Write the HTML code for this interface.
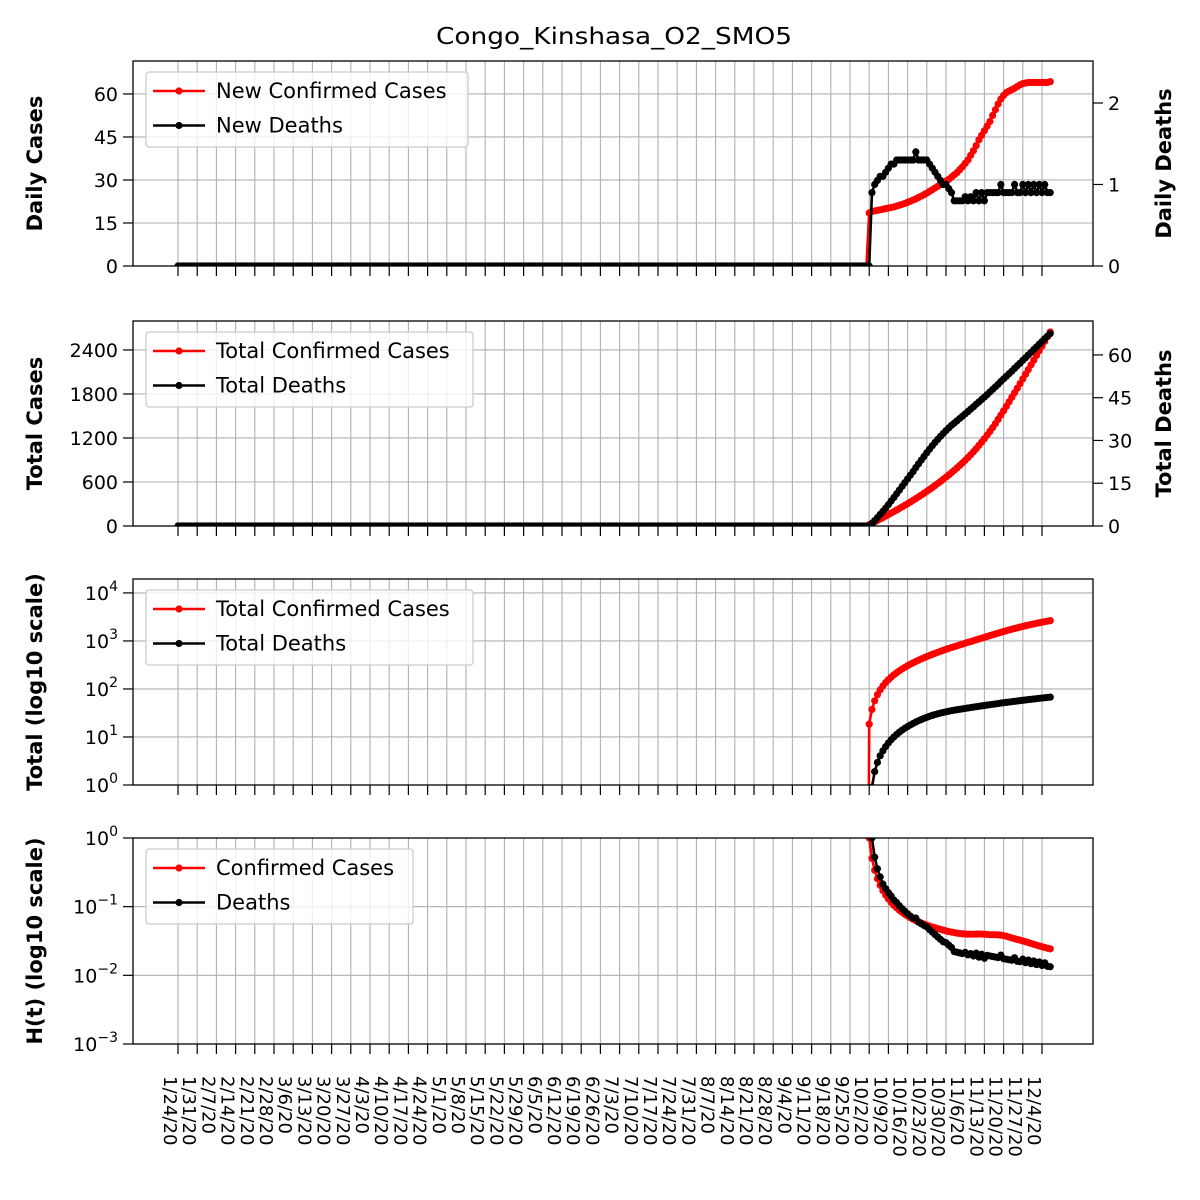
<!DOCTYPE html>
<html><head><meta charset="utf-8"><style>
body{margin:0;background:#fff;overflow:hidden}
svg{display:block;font-family:"DejaVu Sans","Liberation Sans",sans-serif}
</style></head><body>
<svg id="chart" width="1200" height="1200" viewBox="0 0 1200 1200" style="overflow:hidden"></svg>
<script>
// ---- data ----
const startDay = 252; // first day (10/2/20) of nonzero series; days 0..251 are zero
const zeroDays = 252;
const dailyCases = [18.5,19,19.2,19.4, 19.6,19.8,20,20.2, 20.4,20.6,20.9,21.2, 21.5,21.8,22.2,22.6,
 23,23.4,23.9,24.4, 24.9,25.4,26,26.6, 27.2,27.8,28.4,29, 29.6,30.2,31,31.8, 32.6,33.6,34.6,35.8,
 37,38.6,40.2,42, 44,45.6,47.2,48.8, 50.4,52.5,54.5,56.5, 58.2,59.5,60.5,61, 61.5,62,62.6,63.2,
 63.6,63.8,64,64, 64,64,64,64,64,64,64.3];
const dailyDeaths = [0,0.9,1.0,1.05,1.1,1.1,1.15,1.2,1.25,1.25,1.3,1.3,1.3,1.3,
 1.3,1.3,1.3,1.4,1.3,1.3,1.3,1.3,1.25,1.2,1.15,1.1,1.05,1.0,
 1.0,0.95,0.9,0.8,0.8,0.8,0.8,0.85,0.8,0.85,0.8,0.9,0.8,0.9,0.8,0.9,0.9,0.9,0.9,0.9,1.0,0.9,0.9,0.9,0.9,1.0,0.9,0.9,1.0,0.9,1.0,0.9,1.0,0.9,1.0,0.9,1.0,0.9,0.9];
const tickLabels = ["1/24/20","1/31/20","2/7/20","2/14/20","2/21/20","2/28/20","3/6/20","3/13/20","3/20/20","3/27/20","4/3/20","4/10/20","4/17/20","4/24/20","5/1/20","5/8/20","5/15/20","5/22/20","5/29/20","6/5/20","6/12/20","6/19/20","6/26/20","7/3/20","7/10/20","7/17/20","7/24/20","7/31/20","8/7/20","8/14/20","8/21/20","8/28/20","9/4/20","9/11/20","9/18/20","9/25/20","10/2/20","10/9/20","10/16/20","10/23/20","10/30/20","11/6/20","11/13/20","11/20/20","11/27/20","12/4/20"];
const p1Left=[0,15,30,45,60], p1Right=[0,1,2];
const p2Left=[0,600,1200,1800,2400], p2Right=[0,15,30,45,60];

const NS="http://www.w3.org/2000/svg";
const svg=document.getElementById('chart');
function el(tag,attrs,parent){const e=document.createElementNS(NS,tag);for(const k in attrs)e.setAttribute(k,attrs[k]);(parent||svg).appendChild(e);return e;}
const X0=133,X1=1093;
const xs=d=>178+d*(864/315);

const fullCases=[],fullDeaths=[];
for(let i=0;i<zeroDays;i++){fullCases.push(0);fullDeaths.push(0);}
dailyCases.forEach(v=>fullCases.push(v));
dailyDeaths.forEach(v=>fullDeaths.push(v));
function cum(a){let s=0;return a.map(v=>s+=v);}
const totCases=cum(fullCases), totDeaths=cum(fullDeaths);
const hCases=fullCases.map((v,i)=>totCases[i]>0?v/totCases[i]:null);
const hDeaths=fullDeaths.map((v,i)=>totDeaths[i]>0?v/totDeaths[i]:null);

const panels=[{t:61,b:266},{t:321,b:526},{t:579,b:785},{t:838,b:1044}];
function linY(p,min,max){return v=>p.b-(v-min)/(max-min)*(p.b-p.t);}
function logY(p,lmin,lmax){return v=>p.b-(Math.log10(v)-lmin)/(lmax-lmin)*(p.b-p.t);}

function frame(p,idx,leftTicks,leftY,leftFmt,rightTicks,rightY,label,rlabel){
  const g=el('g',{});
  const clipId='clip'+idx;
  const cp=el('clipPath',{id:clipId},g);el('rect',{x:X0,y:p.t,width:X1-X0,height:p.b-p.t},cp);
  const grid=el('g',{},g);
  tickLabels.forEach((l,i)=>{const x=xs(i*7);el('line',{x1:x,x2:x,y1:p.t,y2:p.b,stroke:'#b0b0b0','stroke-width':1.1},grid);
    el('line',{x1:x,x2:x,y1:p.b,y2:p.b+10,stroke:'#000','stroke-width':1.2},g);});
  leftTicks.forEach(v=>{const y=leftY(v);el('line',{x1:X0,x2:X1,y1:y,y2:y,stroke:'#b0b0b0','stroke-width':1.1},grid);
    el('line',{x1:X0-10,x2:X0,y1:y,y2:y,stroke:'#000','stroke-width':1.2},g);
    const t=el('text',{x:X0-15,y:y+7,'text-anchor':'end','font-size':19},g);leftFmt(t,v);});
  if(rightTicks){rightTicks.forEach(v=>{const y=rightY(v);
    el('line',{x1:X1,x2:X1+10,y1:y,y2:y,stroke:'#000','stroke-width':1.2},g);
    const t=el('text',{x:X1+15,y:y+7,'font-size':19},g);t.textContent=v;});}
  const yl=el('text',{x:0,y:0,transform:`translate(42,${(p.t+p.b)/2}) rotate(-90)`,'text-anchor':'middle','font-size':21,'font-weight':'bold'},g);
  yl.textContent=label;
  if(rlabel){const r=el('text',{x:0,y:0,transform:`translate(1171,${(p.t+p.b)/2}) rotate(-90)`,'text-anchor':'middle','font-size':21,'font-weight':'bold'},g);
    r.textContent=rlabel;}
  return {g,clip:`url(#${clipId})`};
}
function series(fr,vals,yf,color,name,startIdx){
  const g=el('g',{'clip-path':fr.clip},fr.g);
  
  
  let pts=[];
  vals.forEach((v,i)=>{if(i<startIdx)return;if(v===null)return;pts.push([xs(i),yf(v)]);});
  el('polyline',{points:pts.map(p=>p.join(',')).join(' '),fill:'none',stroke:color,'stroke-width':2.6},g);
  pts.forEach(p=>{if(p[1]<-1000||p[1]>2000)return;el('circle',{cx:p[0],cy:p[1],r:3.6,fill:color},g);});
}
function legend(p,w,items,idx){
  const g=el('g',{});
  el('rect',{x:146,y:p.t+11,width:w,height:75,rx:3,fill:'#fff','fill-opacity':0.8,stroke:'#ccc','stroke-width':1.3},g);
  items.forEach((it,k)=>{const y=p.t+30+k*34.5;
    el('line',{x1:153,x2:205,y1:y,y2:y,stroke:it[1],'stroke-width':2.6},g);
    el('circle',{cx:179,cy:y,r:3.6,fill:it[1]},g);
    const t=el('text',{x:216,y:y+7,'font-size':21},g);t.textContent=it[0];});
}
function border(p){el('rect',{x:X0,y:p.t,width:X1-X0,height:p.b-p.t,fill:'none',stroke:'#000','stroke-width':1.3});}
function sup(t,base,exp){t.textContent=base;const s=el('tspan',{dy:-9,'font-size':14},t);s.textContent=exp;}

const title=el('text',{x:614,y:44,'text-anchor':'middle','font-size':23,textLength:356,lengthAdjust:'spacingAndGlyphs'});
title.textContent='Congo_Kinshasa_O2_SMO5';

{const p=panels[0];const yl=linY(p,0,71.5),yr=linY(p,0,2.515);
 const fr=frame(p,0,p1Left,yl,(t,v)=>t.textContent=v,p1Right,yr,'Daily Cases','Daily Deaths');
 series(fr,fullCases,yl,'#ff0000','series-new-confirmed',0);
 series(fr,fullDeaths,yr,'#000','series-new-deaths',0);
 border(p);legend(p,322,[['New Confirmed Cases','#ff0000'],['New Deaths','#000']],0);}
{const p=panels[1];const yl=linY(p,0,2795),yr=linY(p,0,71.9);
 const fr=frame(p,1,p2Left,yl,(t,v)=>t.textContent=v,p2Right,yr,'Total Cases','Total Deaths');
 series(fr,totCases,yl,'#ff0000','series-total-confirmed',0);
 series(fr,totDeaths,yr,'#000','series-total-deaths',0);
 border(p);legend(p,327,[['Total Confirmed Cases','#ff0000'],['Total Deaths','#000']],1);}
{const p=panels[2];const y=logY(p,0,4.29);
 const fr=frame(p,2,[1,10,100,1000,10000],y,(t,v)=>sup(t,'10',String(Math.round(Math.log10(v)))),null,null,'Total (log10 scale)');
 const yc=v=>v<=0?p.b+500:y(v);
 series(fr,totCases,yc,'#ff0000','series-log-confirmed',startDay-1);
 series(fr,totDeaths,yc,'#000','series-log-deaths',startDay+1);
 border(p);legend(p,327,[['Total Confirmed Cases','#ff0000'],['Total Deaths','#000']],2);}
{const p=panels[3];const y=logY(p,-3,0);
 const fr=frame(p,3,[1,0.1,0.01,0.001],y,(t,v)=>sup(t,'10',v===1?'0':'\u2212'+Math.round(-Math.log10(v))),null,null,'H(t) (log10 scale)');
 series(fr,hCases,y,'#ff0000','series-h-confirmed',0);
 series(fr,hDeaths,y,'#000','series-h-deaths',0);
 border(p);legend(p,267,[['Confirmed Cases','#ff0000'],['Deaths','#000']],3);}
{const g=el('g',{});
 tickLabels.forEach((l,i)=>{const x=xs(i*7);
  const t=el('text',{x:0,y:0,transform:`translate(${x-14},1076) rotate(90)`,'font-size':18},g);t.textContent=l;});}
</script>
</body></html>
